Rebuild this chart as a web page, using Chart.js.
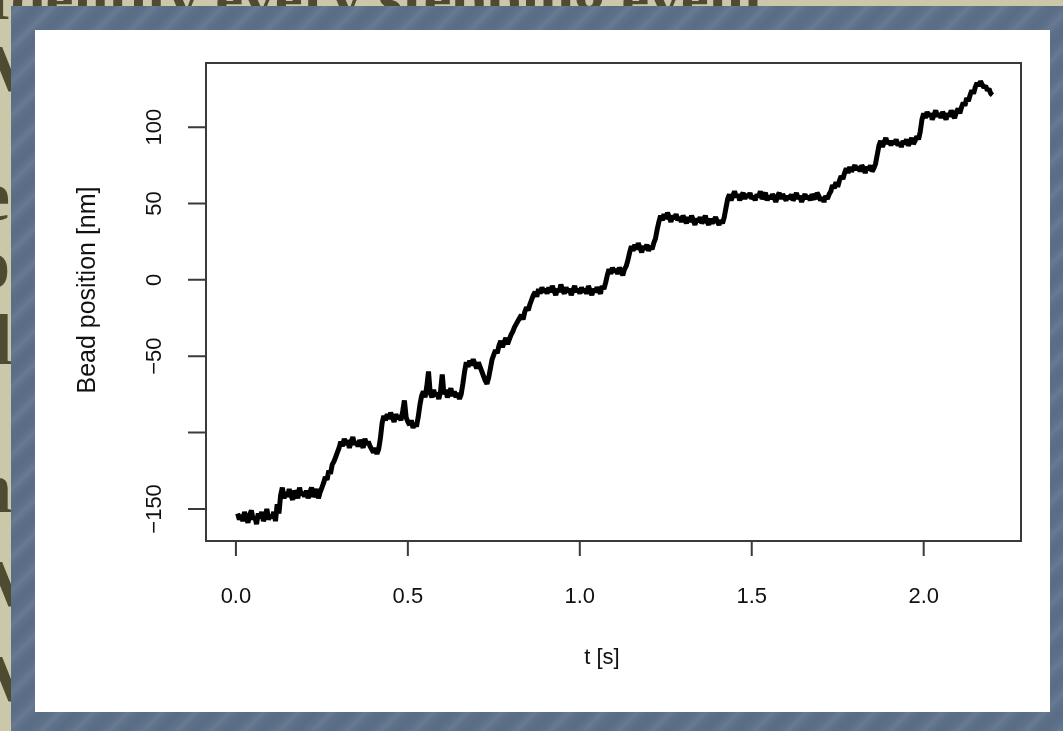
<!DOCTYPE html>
<html>
<head>
<meta charset="utf-8">
<title>Bead position trace</title>
<script src="https://cdn.jsdelivr.net/npm/chart.js@4.4.0/dist/chart.umd.min.js"></script>
<style>
  html, body { margin: 0; padding: 0; width: 1063px; height: 731px; overflow: hidden; background: #cbc8aa; }
  .slide-title { position: absolute; left: -14px; top: -38px; font-family: "Liberation Serif", "DejaVu Serif", "Noto Serif", serif; font-size: 63px; font-weight: bold; color: #4f4b33; white-space: nowrap; }
  .side { position: absolute; font-family: "Liberation Serif", "DejaVu Serif", "Noto Serif", serif; font-size: 72px; font-weight: bold; color: #4f4b33; line-height: 1; }
  .frame {
    position: absolute; left: 11px; top: 6px; right: 0; bottom: 0;
    background-color: #5d7089;
    background-image: repeating-linear-gradient(135deg,
      rgba(255,255,255,0) 0px, rgba(255,255,255,0.07) 6px, rgba(255,255,255,0) 12px,
      rgba(0,0,0,0.03) 18px, rgba(255,255,255,0) 24px);
  }
  .panel { position: absolute; left: 35px; top: 30px; width: 1015px; height: 682px; background: #fff; }
  #chart { position: absolute; left: 0; top: 0; }
</style>
</head>
<body>
<div class="slide-title">Identify every stepping event</div>
<div class="side" style="left:-40px; top:30px;">W</div>
<div class="side" style="left:-22px; top:160px;">e</div>
<div class="side" style="left:-26px; top:228px;">o</div>
<div class="side" style="left:-28px; top:304px;">d</div>
<div class="side" style="left:-28px; top:452px;">n</div>
<div class="side" style="left:-40px; top:545px;">W</div>
<div class="side" style="left:-40px; top:640px;">W</div>
<div class="frame"></div>
<div class="panel"></div>
<canvas id="chart" width="1063" height="731"></canvas>
<script>
// Sampling of the trace (seconds)
const T_START = 0.005;
const T_STEP = 0.005;

// Bead position [nm], one value per sample
const beadPosition = [
  -153,-157,-154,-158,-152,-156,-159,-154,-151,-157,-155,-160,-153,-156,-152,-158,-155,-150,-157,-154,
  -156,-152,-158,-147,-153,-141,-136,-143,-139,-142,-137,-141,-144,-138,-140,-143,-136,-141,-139,-142,
  -138,-143,-139,-136,-142,-140,-137,-143,-139,-136,-133,-129,-131,-125,-127,-121,-119,-116,-113,-110,
  -106,-109,-104,-108,-105,-110,-106,-103,-108,-106,-109,-105,-107,-110,-104,-108,-106,-109,-111,-113,
  -110,-114,-111,-104,-94,-89,-92,-88,-91,-87,-90,-93,-88,-91,-89,-92,-86,-79,-90,-93,
  -95,-92,-97,-94,-96,-90,-82,-76,-73,-77,-70,-60,-74,-77,-72,-76,-74,-78,-73,-62,
  -75,-72,-77,-74,-71,-76,-73,-77,-74,-78,-75,-68,-60,-54,-57,-53,-56,-52,-55,-58,
  -54,-57,-60,-63,-66,-68,-64,-58,-52,-49,-46,-48,-43,-40,-44,-41,-38,-42,-39,-36,
  -34,-31,-29,-27,-25,-23,-26,-21,-18,-20,-16,-13,-10,-8,-11,-6,-9,-5,-8,-6,
  -9,-5,-8,-4,-7,-10,-6,-8,-3,-7,-9,-5,-8,-6,-10,-7,-4,-8,-6,-9,
  -5,-8,-6,-9,-4,-7,-10,-6,-8,-5,-7,-9,-4,-6,-2,3,7,4,8,5,
  7,4,8,6,3,7,9,13,18,22,19,23,20,24,21,18,22,20,23,19,
  22,20,24,27,33,38,42,39,43,40,44,41,38,42,40,43,39,41,38,42,
  40,37,41,38,42,39,36,40,38,41,37,39,42,38,36,40,37,39,41,38,
  36,39,37,41,47,53,56,52,55,58,54,56,52,55,57,53,56,54,57,53,
  55,52,56,54,58,53,55,57,52,55,53,56,54,51,55,57,53,56,54,52,
  55,53,56,52,54,57,53,55,51,54,56,53,55,52,56,54,53,57,55,52,
  54,51,55,53,56,58,62,60,64,61,65,68,66,70,73,70,74,71,73,75,
  72,74,71,75,73,70,74,72,75,71,73,76,82,88,91,87,90,93,89,91,
  88,91,89,92,88,90,87,91,89,92,88,90,93,89,91,94,92,97,105,109,
  106,110,107,109,105,108,111,107,109,106,110,108,105,109,107,111,108,106,110,112,
  109,113,116,114,119,117,121,124,122,126,129,127,130,128,126,127,124,125,122,121
];

// Axis ticks and their labels
const xTicks = [0, 0.5, 1.0, 1.5, 2.0];
const xTickLabels = ['0.0', '0.5', '1.0', '1.5', '2.0'];
const yTicks = [-150, -100, -50, 0, 50, 100];
const yTickLabels = ['\u2212150', '', '\u221250', '0', '50', '100'];
const xTitle = 't [s]';
const yTitle = 'Bead position [nm]';

const points = beadPosition.map((v, i) => ({ x: T_START + i * T_STEP, y: v }));

const FONT_FAMILY = '"Liberation Sans", Arial, Helvetica, sans-serif';

// Box, outward tick marks and rotated y labels in the style of base R graphics
const rStyleAxes = {
  id: 'rStyleAxes',
  afterDraw(chart) {
    const { ctx, chartArea: a, scales: { x, y } } = chart;
    ctx.save();
    ctx.strokeStyle = '#3a3a3a';
    ctx.lineWidth = 2;
    ctx.strokeRect(a.left, a.top, a.right - a.left, a.bottom - a.top);

    ctx.beginPath();
    xTicks.forEach(v => {
      const px = x.getPixelForValue(v);
      ctx.moveTo(px, a.bottom);
      ctx.lineTo(px, a.bottom + 15);
    });
    yTicks.forEach(v => {
      const py = y.getPixelForValue(v);
      ctx.moveTo(a.left, py);
      ctx.lineTo(a.left - 18, py);
    });
    ctx.stroke();

    ctx.fillStyle = '#111';
    ctx.font = '22px ' + FONT_FAMILY;
    ctx.textAlign = 'center';
    ctx.textBaseline = 'middle';
    xTicks.forEach((v, i) => {
      ctx.fillText(xTickLabels[i], x.getPixelForValue(v), a.bottom + 56);
    });
    ctx.fillText(xTitle, 602, a.bottom + 117);

    yTicks.forEach((v, i) => {
      if (!yTickLabels[i]) return;
      ctx.save();
      ctx.translate(a.left - 51, y.getPixelForValue(v));
      ctx.rotate(-Math.PI / 2);
      ctx.fillText(yTickLabels[i], 0, 0);
      ctx.restore();
    });

    ctx.font = '25px ' + FONT_FAMILY;
    ctx.save();
    ctx.translate(88, 290);
    ctx.rotate(-Math.PI / 2);
    ctx.fillText(yTitle, 0, 0);
    ctx.restore();
    ctx.restore();
  }
};

new Chart(document.getElementById('chart'), {
  type: 'line',
  data: {
    datasets: [{
      data: points,
      borderColor: '#000',
      borderWidth: 5,
      borderJoinStyle: 'bevel',
      pointRadius: 0,
      tension: 0,
      fill: false
    }]
  },
  options: {
    responsive: false,
    animation: false,
    devicePixelRatio: 1,
    layout: { padding: { left: 206, top: 63, right: 42, bottom: 190 } },
    scales: {
      x: { type: 'linear', min: -0.087, max: 2.283, display: false },
      y: { type: 'linear', min: -171, max: 142, display: false }
    },
    plugins: { legend: { display: false }, tooltip: { enabled: false } }
  },
  plugins: [rStyleAxes]
});
</script>
</body>
</html>
